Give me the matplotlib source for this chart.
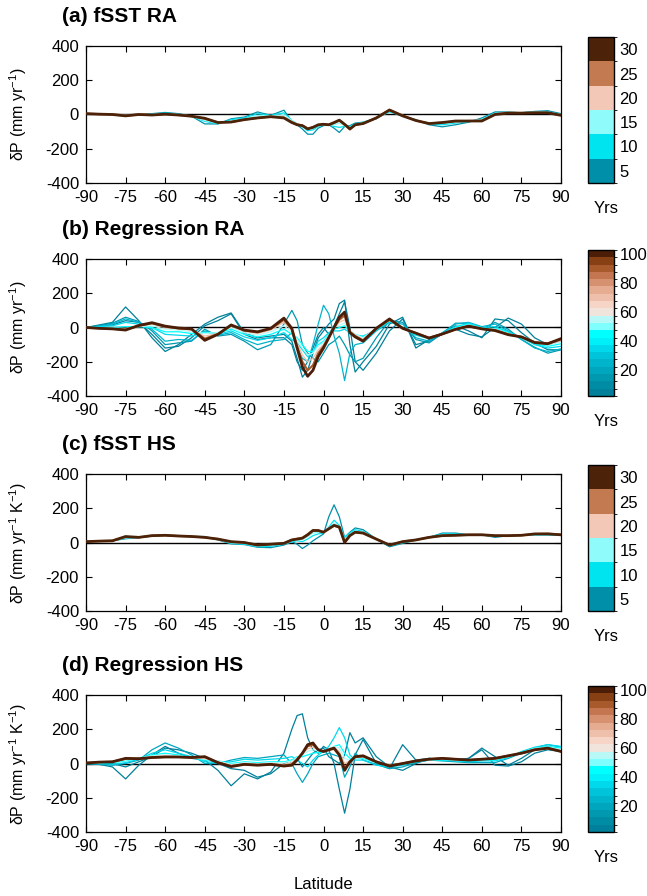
import numpy as np
import matplotlib
matplotlib.use('Agg')
import matplotlib.pyplot as plt
from matplotlib.colors import ListedColormap, BoundaryNorm
import matplotlib.colorbar as mcolorbar

plt.rcParams['font.family'] = ['Liberation Sans', 'DejaVu Sans']
plt.rcParams['mathtext.fontset'] = 'custom'
plt.rcParams['mathtext.rm'] = 'Liberation Sans'
plt.rcParams['mathtext.it'] = 'Liberation Sans:italic'
plt.rcParams['mathtext.bf'] = 'Liberation Sans:bold'
plt.rcParams['axes.unicode_minus'] = False

# ---------------- data ----------------
LAT = [-90, -85, -80, -75, -70, -65, -60, -55, -50, -45, -40, -35, -30, -25, -20,
       -15, -12, -10, -8, -6, -4, -2, 0, 2, 4, 6, 8, 10, 12,
       15, 20, 25, 30, 35, 40, 45, 50, 55, 60, 65, 70, 75, 80, 85, 90]
XTICKS = list(range(-90, 91, 15))
YTICKS = [-400, -200, 0, 200, 400]

FSST_COLORS = ['#008FA8', '#00E4F0', '#8FFBFB', '#F4C8B6', '#C47A50', '#4C2208']
FSST_BOUNDS = [0, 5, 10, 15, 20, 25, 30]
FSST_TICKS = [5, 10, 15, 20, 25, 30]

REG_COLORS = ['#00809A', '#008CA4', '#0099B0', '#00A6BE', '#00B4CC', '#00C4DA',
              '#00D8EC', '#00F0FA', '#00FFFF', '#7FFFFF', '#B8F8F6', '#F0E4DC',
              '#F6D4C6', '#EEC0AC', '#E6AC92', '#D69270', '#C47650', '#A85A2C',
              '#864014', '#4C1E08']
REG_BOUNDS = list(range(0, 101, 5))
REG_TICKS = [20, 40, 60, 80, 100]

# (a) fSST RA
A_YEARS = [3, 8, 13, 18, 23, 28]
A_Y03 = [3, 2, 0, -3, -5, 5, 12, 5, -10, -55, -55, -25, -15, 15, -5,
         25, -40, -60, -85, -115, -115, -80, -65, -60, -80, -105, -70, -65, -50,
         -45, -25, 20, -10, -30, -60, -72, -60, -45, -20, 15, 15, 10, 18, 22, 5]
A_Y08 = [3, 2, 0, -5, -3, 2, 8, 2, -12, -40, -55, -30, -20, 5, -5,
         10, -35, -55, -70, -95, -90, -70, -60, -60, -70, -75, -70, -70, -55,
         -45, -22, 15, -8, -35, -55, -60, -50, -42, -28, 8, 12, 10, 15, 15, 0]
A_Y13 = [4, 2, 0, -6, -2, 0, 5, 0, -10, -35, -50, -38, -28, -5, -8,
         0, -35, -55, -65, -85, -80, -65, -55, -58, -60, -50, -65, -75, -58,
         -48, -22, 20, -8, -35, -52, -52, -45, -38, -30, 5, 12, 10, 13, 12, -2]
A_Y18 = [5, 2, 0, -6, 0, -2, 3, -2, -10, -28, -48, -42, -30, -18, -12,
         -15, -40, -55, -62, -80, -75, -62, -55, -58, -52, -35, -62, -80, -60,
         -50, -22, 25, -5, -35, -52, -48, -42, -38, -34, 3, 12, 10, 12, 11, -2]
A_Y23 = [5, 2, 0, -7, 0, -3, 2, -3, -10, -24, -46, -44, -30, -20, -12,
         -18, -45, -58, -65, -82, -75, -62, -57, -60, -50, -35, -60, -88, -62,
         -52, -20, 28, -6, -35, -52, -47, -40, -38, -36, 2, 10, 9, 10, 10, -3]
A_Y28 = [5, 2, 0, -8, 0, -3, 2, -3, -10, -22, -47, -44, -30, -20, -13,
         -20, -47, -60, -65, -84, -75, -60, -57, -60, -47, -33, -57, -84, -60,
         -53, -20, 26, -8, -35, -53, -47, -38, -38, -38, 0, 8, 8, 10, 10, -5]

# (b) Regression RA
B_YEARS = [2, 4, 12, 22, 32, 42, 52, 68, 88, 98]
B_Y02 = [0, 10, 15, 40, 30, -40, -120, -110, -60, 10, 40, 80, -40, -70, -60,
         -60, -100, -200, -250, -200, -120, -40, 0, -40, 10, 80, 150, 0, -200,
         -250, -150, -20, 50, -100, -80, -40, -10, -40, -55, 0, 55, 20, -60, -100, -80]
B_Y04 = [0, 15, 30, 120, 40, -60, -140, -100, -40, 20, 60, 85, -30, -60, -50,
         -40, -80, -180, -290, -250, -150, -60, -20, 20, 50, 140, 160, -100, -260,
         -200, -110, 20, 60, -120, -70, -40, 10, -20, -60, 50, 40, -30, -90, -130, -130]
B_Y12 = [0, 10, 25, 60, 35, -20, -100, -90, -80, -10, -50, -40, -80, -130, -100,
         20, 100, 40, -100, -150, -180, -200, -150, -100, -80, -50, -100, -160, -200,
         -180, -60, 40, 30, -70, -90, -35, 25, 25, -10, 30, -10, -70, -115, -150, -130]
B_Y22 = [0, 8, 20, 50, 30, -10, -80, -70, -75, -20, -45, -30, -70, -100, -80,
         -70, -30, -120, -180, -200, -100, 20, 130, 80, -50, -150, -310, -150, -100,
         -90, -20, 30, 20, -60, -80, -30, 20, 30, 5, 20, -20, -70, -120, -140, -125]
B_Y32 = [0, 5, 10, 30, 20, 0, -40, -45, -50, -30, -40, -20, -55, -75, -60,
         -30, -70, -90, -130, -170, -150, -80, -60, -30, -20, -20, -10, -30, -45,
         -50, -15, 35, 0, -45, -65, -35, 5, 25, 0, 5, -25, -60, -100, -120, -110]
B_Y42 = [0, 0, 0, 5, 5, 0, -25, -25, -35, -30, -30, -10, -40, -55, -40,
         -10, -40, -60, -100, -140, -140, -100, -80, -40, -10, 0, 10, -20, -40,
         -55, -10, 40, -5, -40, -60, -35, 0, 20, -5, -5, -30, -60, -95, -110, -95]
B_Y52 = [0, -3, -5, -5, 5, 10, -10, -15, -25, -35, -30, 0, -30, -45, -25,
         10, -25, -70, -120, -160, -150, -110, -90, -45, 0, 15, 25, -20, -40,
         -60, -5, 42, -5, -38, -58, -38, -5, 15, -5, -10, -35, -58, -90, -100, -85]
B_Y68 = [0, -5, -8, -10, 8, 20, 0, -8, -15, -50, -35, 8, -22, -35, -15,
         30, -15, -90, -160, -200, -180, -130, -100, -50, 0, 30, 45, -20, -45,
         -70, -5, 45, -5, -35, -60, -38, -8, 10, -8, -12, -38, -55, -85, -95, -78]
B_Y88 = [0, -5, -8, -12, 10, 25, 5, -5, -10, -65, -38, 12, -18, -28, -8,
         45, -10, -110, -200, -250, -220, -150, -110, -55, 0, 45, 70, -25, -50,
         -75, -5, 45, -5, -33, -60, -38, -10, 8, -8, -15, -40, -55, -85, -92, -70]
B_Y98 = [0, -5, -8, -15, 12, 28, 8, -3, -8, -75, -40, 15, -15, -25, -5,
         55, -5, -120, -230, -285, -250, -170, -120, -60, 0, 60, 90, -30, -55,
         -80, -5, 50, -5, -33, -62, -38, -11, 8, -8, -18, -42, -55, -88, -95, -65]

# (c) fSST HS
C_YEARS = [3, 8, 13, 18, 23, 28]
C_Y03 = [5, 8, 10, 22, 28, 38, 42, 40, 35, 35, 15, -8, -12, -28, -30,
         -15, 5, -10, -35, -15, 10, 30, 50, 150, 220, 150, 30, 60, 85,
         75, 20, -25, -5, 15, 30, 55, 55, 45, 45, 30, 40, 42, 45, 45, 42]
C_Y08 = [5, 7, 10, 25, 30, 38, 42, 38, 35, 32, 18, -5, -10, -25, -22,
         -10, 5, 10, 5, 20, 40, 50, 55, 90, 130, 100, 30, 55, 75,
         65, 20, -20, 0, 15, 30, 50, 50, 45, 45, 35, 40, 42, 45, 45, 42]
C_Y13 = [5, 7, 10, 28, 30, 38, 42, 38, 35, 30, 18, 0, -5, -20, -15,
         -8, 10, 15, 20, 35, 55, 60, 60, 85, 110, 95, 15, 45, 65,
         60, 20, -18, 3, 15, 30, 45, 45, 45, 45, 38, 40, 42, 48, 48, 45]
C_Y18 = [5, 8, 10, 30, 30, 40, 42, 38, 35, 30, 18, 0, -2, -18, -12,
         -5, 12, 20, 25, 40, 65, 65, 60, 80, 105, 90, 10, 45, 62,
         58, 22, -15, 5, 15, 30, 42, 44, 45, 45, 40, 40, 42, 50, 50, 45]
C_Y23 = [5, 8, 10, 32, 30, 40, 42, 38, 35, 30, 20, 3, 0, -15, -10,
         -3, 15, 22, 28, 48, 72, 70, 62, 80, 98, 88, 5, 42, 60,
         55, 20, -15, 5, 15, 30, 40, 42, 45, 45, 40, 40, 42, 50, 52, 47]
C_Y28 = [5, 8, 10, 35, 30, 40, 42, 38, 35, 30, 20, 5, 0, -15, -10,
         -5, 15, 20, 25, 45, 70, 70, 60, 80, 100, 90, 0, 40, 60,
         55, 20, -15, 5, 15, 30, 40, 42, 45, 45, 40, 40, 42, 50, 50, 45]

# (d) Regression HS
D_YEARS = [2, 4, 18, 32, 42, 52, 68, 88, 98]
D_Y02 = [0, 0, 0, -20, 10, 40, 90, 80, 60, 30, 0, -30, -40, -80, -60,
         0, 20, 30, -20, 20, 60, 80, 90, 40, 20, 0, 50, 180, 120,
         150, 40, -20, -40, 0, 30, 25, 20, 30, 90, 40, -10, 30, 80, 90, 80]
D_Y04 = [0, -5, -20, -90, -10, 50, 100, 60, 30, 20, -40, -130, -60, -90, -50,
         60, 200, 280, 290, 150, 80, 60, 100, 80, 0, -150, -290, -150, 50,
         140, 0, -30, 110, 20, 30, 20, 20, 30, 80, -10, -15, 10, 60, 80, 70]
D_Y18 = [0, -5, -10, 0, 20, 80, 120, 90, 50, 0, 0, 20, 35, 30, 40,
         50, 0, -60, -110, -60, 0, 40, 50, 60, 50, 40, -80, -20, 60,
         20, -5, -30, -20, 5, 20, 15, 10, 5, 5, 5, 30, 60, 90, 110, 95]
D_Y32 = [0, 0, -5, 5, 25, 60, 80, 60, 40, 10, 5, 10, 25, 20, 25,
         30, 40, 20, 0, -20, 20, 50, 70, 100, 150, 210, 150, 50, 20,
         20, -10, -20, -10, 10, 20, 20, 15, 10, 15, 15, 35, 70, 95, 110, 100]
D_Y42 = [2, 3, 5, 15, 30, 50, 60, 50, 35, 20, 15, 0, 10, 5, 10,
         10, 20, 40, 40, 50, 60, 65, 65, 80, 100, 110, 60, 30, 30,
         30, 5, -10, -5, 12, 20, 22, 18, 15, 20, 20, 38, 65, 90, 100, 90]
D_Y52 = [3, 5, 8, 20, 30, 45, 50, 45, 35, 25, 15, -5, 5, 0, 5,
         5, 15, 35, 50, 70, 80, 75, 70, 85, 100, 90, 30, 20, 30,
         35, 10, -10, 0, 15, 20, 25, 20, 18, 22, 25, 40, 62, 88, 95, 80]
D_Y68 = [3, 6, 10, 25, 30, 40, 45, 40, 35, 30, 10, -10, 0, -5, 0,
         -5, 5, 30, 55, 85, 95, 80, 70, 85, 95, 70, 0, 15, 35,
         40, 10, -10, 0, 15, 25, 28, 22, 20, 25, 28, 42, 60, 85, 90, 75]
D_Y88 = [3, 8, 10, 28, 28, 35, 38, 38, 35, 38, 5, -15, -5, -8, -5,
         -12, -5, 25, 60, 100, 110, 80, 70, 80, 85, 50, -25, 10, 38,
         42, 10, -12, 0, 15, 25, 30, 25, 20, 25, 30, 45, 60, 80, 88, 72]
D_Y98 = [3, 8, 10, 30, 28, 35, 38, 38, 35, 40, 5, -18, -5, -10, -5,
         -15, -10, 20, 60, 110, 120, 80, 70, 80, 90, 50, -40, 10, 40,
         45, 10, -15, 0, 15, 25, 30, 25, 20, 25, 30, 45, 60, 80, 90, 70]

PANELS = [
    dict(title='(a) fSST RA', ylabel='δP (mm yr$^{-1}$)', years=A_YEARS,
         lines=[A_Y03, A_Y08, A_Y13, A_Y18, A_Y23, A_Y28],
         colors=FSST_COLORS, bounds=FSST_BOUNDS, ticks=FSST_TICKS),
    dict(title='(b) Regression RA', ylabel='δP (mm yr$^{-1}$)', years=B_YEARS,
         lines=[B_Y02, B_Y04, B_Y12, B_Y22, B_Y32, B_Y42, B_Y52, B_Y68, B_Y88, B_Y98],
         colors=REG_COLORS, bounds=REG_BOUNDS, ticks=REG_TICKS),
    dict(title='(c) fSST HS', ylabel='δP (mm yr$^{-1}$ K$^{-1}$)', years=C_YEARS,
         lines=[C_Y03, C_Y08, C_Y13, C_Y18, C_Y23, C_Y28],
         colors=FSST_COLORS, bounds=FSST_BOUNDS, ticks=FSST_TICKS),
    dict(title='(d) Regression HS', ylabel='δP (mm yr$^{-1}$ K$^{-1}$)', years=D_YEARS,
         lines=[D_Y02, D_Y04, D_Y18, D_Y32, D_Y42, D_Y52, D_Y68, D_Y88, D_Y98],
         colors=REG_COLORS, bounds=REG_BOUNDS, ticks=REG_TICKS),
]

# ---------------- layout (pixels) ----------------
W, H = 647, 896
fig = plt.figure(figsize=(W / 100, H / 100), dpi=100)


def frac(l, t, r, b):
    return [l / W, 1 - b / H, (r - l) / W, (b - t) / H]


AX_L, AX_R = 86, 561
AX_TOPS = [46, 259, 474, 695]
AX_HEIGHT = 137
CB_L, CB_R = 588, 614

for p, top in zip(PANELS, AX_TOPS):
    bottom = top + AX_HEIGHT
    ax = fig.add_axes(frac(AX_L, top, AX_R, bottom))
    cmap = ListedColormap(p['colors'])
    norm = BoundaryNorm(p['bounds'], cmap.N)
    n = len(p['lines'])
    for i, (yr, vals) in enumerate(zip(p['years'], p['lines'])):
        lw = 0.9
        if i == n - 1:
            lw = 2.0
        elif i == n - 2:
            lw = 1.5
        ax.plot(LAT, vals, color=cmap(norm(yr)), lw=lw, zorder=2 + i)
    ax.axhline(0, color='black', lw=1.0, zorder=1)
    ax.set_xlim(-90, 90)
    ax.set_ylim(-400, 400)
    ax.set_xticks(XTICKS)
    ax.set_yticks(YTICKS)
    ax.tick_params(direction='in', length=4, width=0.8, top=True, right=True,
                   labelsize=12, pad=5)
    for s in ax.spines.values():
        s.set_linewidth(0.9)
    # title and y label
    fig.text(62 / W, 1 - (top - 30) / H, p['title'], fontsize=15,
             fontweight='bold', ha='left', va='center')
    fig.text(18 / W, 1 - (top + AX_HEIGHT / 2) / H, p['ylabel'], rotation=90,
             fontsize=11.5, ha='center', va='center')
    # colorbar
    cax = fig.add_axes(frac(CB_L, top - 9, CB_R, bottom))
    cb = mcolorbar.ColorbarBase(cax, cmap=cmap, norm=norm,
                                boundaries=p['bounds'], orientation='vertical')
    cb.set_ticks([t - 2.5 for t in p['ticks']])
    cb.set_ticklabels([str(t) for t in p['ticks']])
    cax.tick_params(length=0, labelsize=12, pad=4)
    cb.outline.set_linewidth(1.0)
    fig.text(606 / W, 1 - (bottom + 25) / H, 'Yrs', fontsize=12,
             ha='center', va='center')

fig.text(323 / W, 1 - 884 / H, 'Latitude', fontsize=12, ha='center', va='center')

fig.savefig('out.png', dpi=100)
